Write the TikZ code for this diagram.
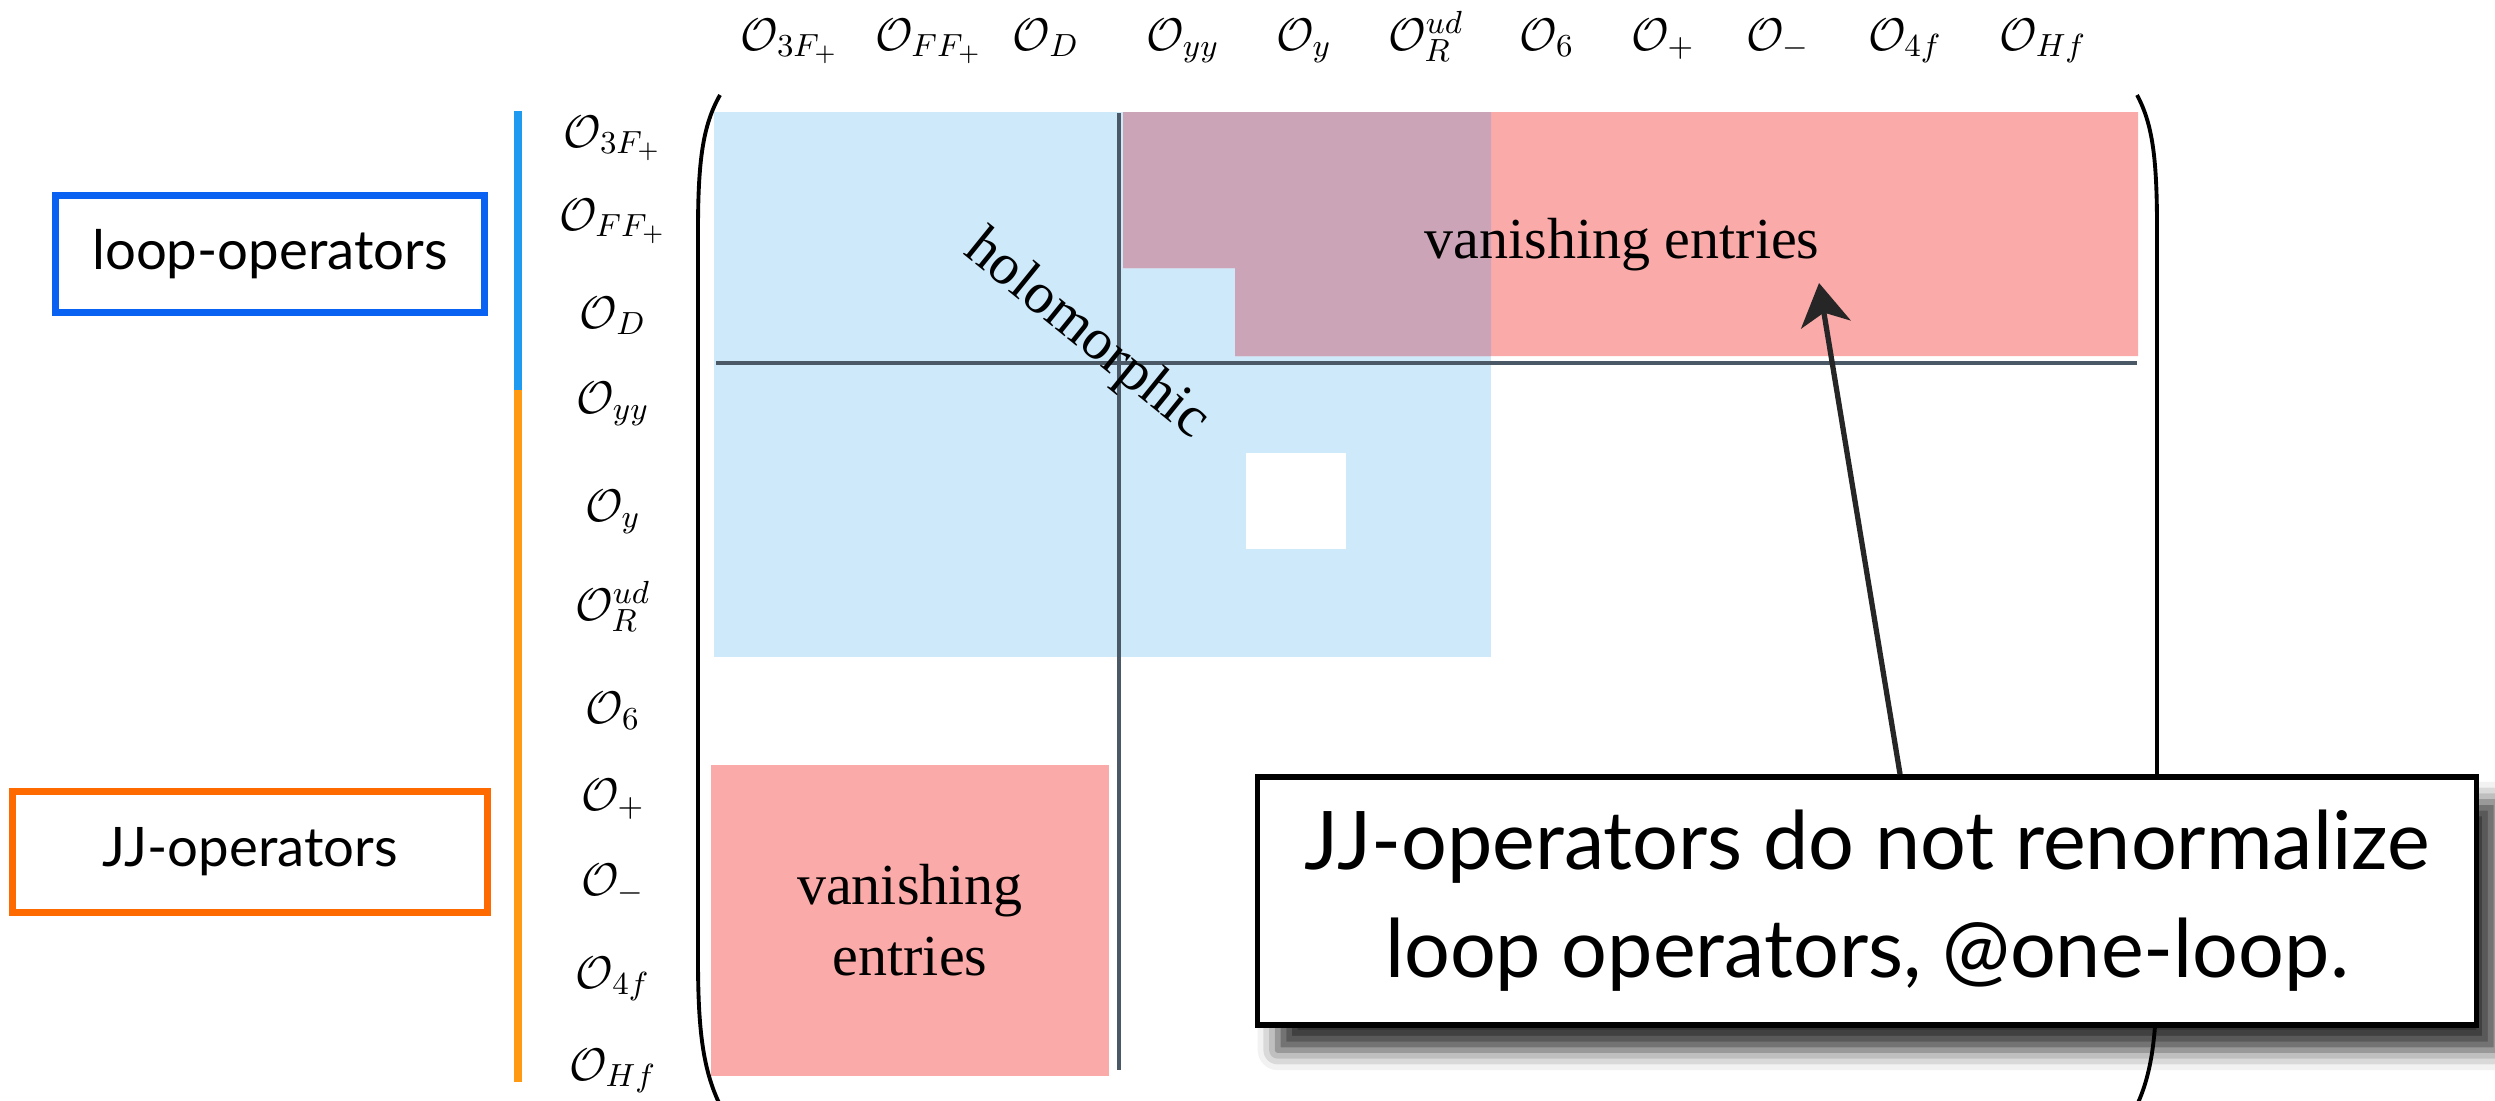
\RequirePackage{fix-cm}
\documentclass[tikz,border=0pt]{standalone}
\usepackage{fontspec}
\newfontfamily\timesfont{Liberation Serif}
\newfontfamily\notefont{Lato}
\usetikzlibrary{arrows.meta,positioning,shadows.blur}
\definecolor{holoblue}{HTML}{CDE9FA}
\definecolor{vanred}{HTML}{FAAAA8}
\definecolor{mixpurple}{HTML}{CBA4B8}
\definecolor{loopblue}{HTML}{0A62F2}
\definecolor{loopbar}{HTML}{1E9BF0}
\definecolor{jjorange}{HTML}{FF6A00}
\definecolor{jjbar}{HTML}{FF9A12}
\definecolor{gridline}{HTML}{4A5965}
\tikzset{op/.style={inner sep=0pt,anchor=base,font=\fontsize{13}{15}\selectfont},
         zone label/.style={inner sep=0pt,align=center,font=\timesfont\fontsize{16.5}{20}\selectfont},
         group box/.style={draw=#1,line width=2pt,fill=white,inner sep=0pt,font=\notefont\fontsize{15.5}{18}\selectfont},
         note box/.style={draw=black,line width=1.6pt,fill=white,inner sep=0pt,align=center,
                          font=\notefont\fontsize{23}{30.7}\selectfont,
                          blur shadow={shadow xshift=0.2cm,shadow yshift=-0.25cm,shadow blur radius=0.2cm,shadow opacity=80}}
}

\begin{document}
\begin{tikzpicture}[x=0.01cm,y=-0.01cm,>=Stealth]
\useasboundingbox (0,0) rectangle (2495,1100);

% coloured blocks
\fill[holoblue] (714,112) rectangle (1491,657);
\fill[white] (1246,453) rectangle (1346,549);
\fill[vanred] (1123,112) -- (2138,112) -- (2138,356) -- (1235,356) -- (1235,268) -- (1123,268) -- cycle;
\fill[mixpurple] (1123,112) -- (1491,112) -- (1491,356) -- (1235,356) -- (1235,268) -- (1123,268) -- cycle;
\fill[vanred] (711,765) rectangle (1109,1076);
\draw[gridline,line width=0.9pt] (716,363) -- (2137,363);
\draw[gridline,line width=0.9pt] (1119,113) -- (1119,1070);

% brackets
\draw[line width=1.1pt] (720,95) .. controls (703,125) and (698,160) .. (698,230) -- (698,960) .. controls (698,1030) and (703,1070) .. (720,1105);
\draw[line width=1.1pt] (2137,95) .. controls (2153,125) and (2157,160) .. (2157,230) -- (2157,960) .. controls (2157,1030) and (2153,1070) .. (2137,1105);

% column labels
\node[op] (c1) at (790,50) {$\mathcal{O}_{3F_+}$};
\node[op] (c2) at (929,50) {$\mathcal{O}_{FF_+}$};
\node[op] (c3) at (1046,50) {$\mathcal{O}_D$};
\node[op] (c4) at (1183,50) {$\mathcal{O}_{yy}$};
\node[op] (c5) at (1304,50) {$\mathcal{O}_y$};
\node[op] (c6) at (1426,50) {$\mathcal{O}_R^{ud}$};
\node[op] (c7) at (1547,50) {$\mathcal{O}_6$};
\node[op] (c8) at (1663,50) {$\mathcal{O}_+$};
\node[op] (c9) at (1778,50) {$\mathcal{O}_-$};
\node[op] (c10) at (1905,50) {$\mathcal{O}_{4f}$};
\node[op] (c11) at (2043,50) {$\mathcal{O}_{Hf}$};

% row labels
\node[op] (r1) at (613,147) {$\mathcal{O}_{3F_+}$};
\node[op] (r2) at (613,230) {$\mathcal{O}_{FF_+}$};
\node[op] (r3) at (613,328) {$\mathcal{O}_D$};
\node[op] (r4) at (613,413) {$\mathcal{O}_{yy}$};
\node[op] (r5) at (613,521) {$\mathcal{O}_y$};
\node[op] (r6) at (613,620) {$\mathcal{O}_R^{ud}$};
\node[op] (r7) at (613,723) {$\mathcal{O}_6$};
\node[op] (r8) at (613,810) {$\mathcal{O}_+$};
\node[op] (r9) at (613,895) {$\mathcal{O}_-$};
\node[op] (r10) at (613,988) {$\mathcal{O}_{4f}$};
\node[op] (r11) at (613,1080) {$\mathcal{O}_{Hf}$};

% operator groups
\draw[loopbar,line width=2.3pt] (518,111) -- (518,390);
\draw[jjbar,line width=2.3pt] (518,390) -- (518,1082);
\node[group box=loopblue,minimum width=4.29cm,minimum height=1.17cm] (loop) at (270,254) {loop-operators};
\node[group box=jjorange,minimum width=4.75cm,minimum height=1.2cm] (jj) at (250,852) {JJ-operators};

% block texts
\node[zone label,rotate=-39] (holo) at (1086,336) {holomorphic};
\node[zone label] (van1) at (1622,245) {vanishing entries};
\node[zone label] (van2) at (910,920) {vanishing\\entries};

% remark
\coordinate (tip) at (1819,283);
\node[note box,minimum width=12.18cm,minimum height=2.48cm] (note) at (1867,901) {JJ-operators do not renormalize\\loop operators, @one-loop.};
\draw[line width=1.5pt,-{Stealth[length=0.42cm,width=0.5cm,inset=0.12cm]},black!85] ([xshift=0.33cm]note.north) -- (tip);
\end{tikzpicture}
\end{document}
